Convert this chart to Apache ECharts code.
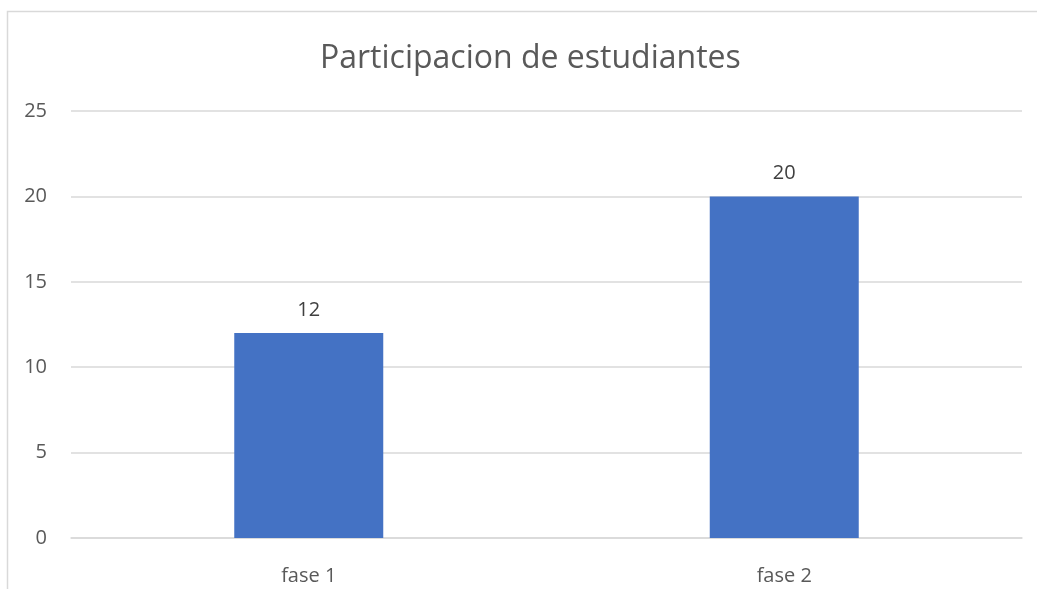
<!DOCTYPE html>
<html>
<head>
<meta charset="utf-8">
<script src="https://cdn.jsdelivr.net/npm/echarts@6/dist/echarts.min.js"></script>
<style>
  html, body { margin: 0; padding: 0; background: #fff; }
  #chart { width: 1037px; height: 589px; }
</style>
</head>
<body>
<div id="chart"></div>
<script>
const categories = ['fase 1', 'fase 2']
const participantes = [12, 20]
const titleText = 'Participacion de estudiantes'

const chart = echarts.init(document.getElementById('chart'))
const font = '"Open Sans", "Noto Sans", sans-serif'

chart.setOption({
  animation: false,
  textStyle: { fontFamily: font },
  title: {
    text: titleText,
    left: 315,
    top: 38,
    textStyle: { fontSize: 32, fontWeight: 'normal', color: '#595959', fontFamily: font }
  },
  graphic: [
    {
      type: 'rect',
      shape: { x: 7.5, y: 11.5, width: 1200, height: 800 },
      style: { fill: 'none', stroke: '#d9d9d9', lineWidth: 1.5 },
      silent: true
    }
  ],
  grid: { left: 71, right: 15, top: 111, bottom: 51, containLabel: false },
  xAxis: {
    type: 'category',
    data: categories,
    axisLine: { lineStyle: { color: '#d9d9d9', width: 1.5 } },
    axisTick: { show: false },
    axisLabel: { color: '#595959', fontSize: 20, margin: 28, fontFamily: font }
  },
  yAxis: {
    type: 'value',
    min: 0,
    max: 25,
    interval: 5,
    axisLine: { show: false },
    axisTick: { show: false },
    axisLabel: { color: '#595959', fontSize: 20, margin: 24, fontFamily: font },
    splitLine: { lineStyle: { color: '#d9d9d9', width: 1.5 } }
  },
  series: [
    {
      type: 'bar',
      data: participantes,
      barWidth: 149,
      itemStyle: { color: '#4472C4' },
      label: {
        show: true,
        position: 'top',
        distance: 13,
        color: '#404040',
        fontSize: 20,
        fontFamily: font
      }
    }
  ]
})
</script>
</body>
</html>
